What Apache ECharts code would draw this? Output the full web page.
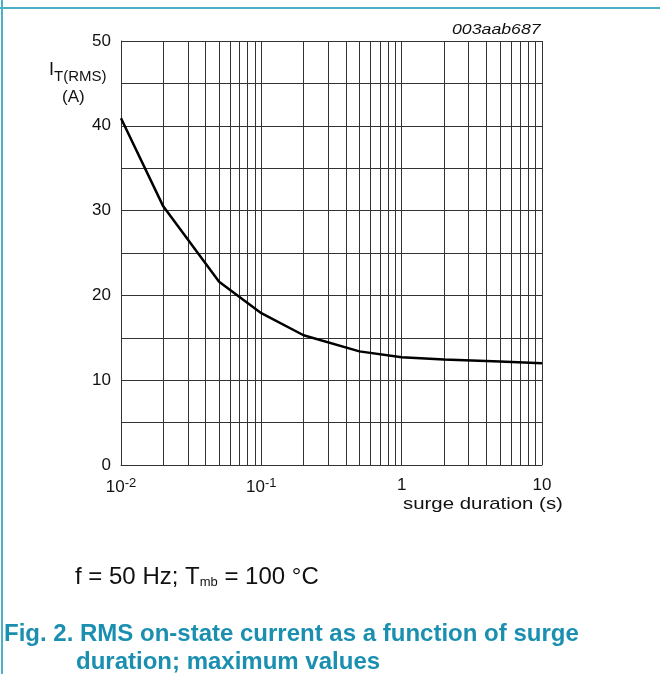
<!DOCTYPE html>
<html>
<head>
<meta charset="utf-8">
<script src="https://cdn.jsdelivr.net/npm/echarts@6/dist/echarts.min.js"></script>
<style>
  html, body { margin: 0; padding: 0; background: #fff; }
  #chart { width: 660px; height: 674px; }
</style>
</head>
<body>
<div id="chart"></div>
<script>
// surge duration (s) and max RMS current (A)
var duration = [0.01, 0.02, 0.05, 0.1, 0.2, 0.5, 1, 2, 5, 10]
var current = [40.9, 30.5, 21.6, 17.9, 15.3, 13.4, 12.7, 12.45, 12.2, 12.0]
// minor vertical grid lines of the log axis
var minorX = [0.02, 0.03, 0.04, 0.05, 0.06, 0.07, 0.08, 0.09,
  0.2, 0.3, 0.4, 0.5, 0.6, 0.7, 0.8, 0.9,
  2, 3, 4, 5, 6, 7, 8, 9]
var xLabels = { 0.01: '10{sup|-2}', 0.1: '10{sup|-1}', 1: '1', 10: '10' }

var myChart = echarts.init(document.getElementById('chart'))
var gridColor = '#333'
var teal = '#1a8fb0'
var ff = 'Liberation Sans'

myChart.setOption({
  animation: false,
  grid: { left: 121, right: 118, top: 41, bottom: 209 },
  xAxis: {
    type: 'log',
    logBase: 10,
    min: 0.01,
    max: 10,
    axisLine: { show: true, lineStyle: { color: gridColor, width: 1 } },
    axisTick: { show: false },
    splitLine: { show: true, lineStyle: { color: gridColor, width: 1 } },
    axisLabel: {
      margin: 12,
      color: '#111',
      fontFamily: ff,
      fontSize: 17,
      formatter: function (v) {
        var key = +v.toPrecision(3)
        return xLabels[key] || ''
      },
      rich: {
        sup: { fontSize: 13, verticalAlign: 'top', padding: [0, 0, 8, 0], fontFamily: ff, color: '#111' }
      }
    }
  },
  yAxis: {
    type: 'value',
    min: 0,
    max: 50,
    interval: 5,
    axisLine: { show: true, lineStyle: { color: gridColor, width: 1 } },
    axisTick: { show: false },
    splitLine: { show: true, lineStyle: { color: gridColor, width: 1 } },
    axisLabel: {
      margin: 10,
      color: '#111',
      fontFamily: ff,
      fontSize: 17,
      formatter: function (v) { return v % 10 === 0 ? String(v) : '' }
    }
  },
  series: [{
    type: 'line',
    data: duration.map(function (d, i) { return [d, current[i]] }),
    symbol: 'none',
    lineStyle: { color: '#000', width: 2.5 },
    z: 5,
    markLine: {
      silent: true,
      symbol: 'none',
      label: { show: false },
      lineStyle: { color: gridColor, width: 1, type: 'solid' },
      data: minorX.map(function (x) { return { xAxis: x } }),
      z: 1
    }
  }],
  graphic: [
    { type: 'line', shape: { x1: 2, y1: 0, x2: 2, y2: 674 }, style: { stroke: '#4bb0c8', lineWidth: 2 } },
    { type: 'line', shape: { x1: 0, y1: 8, x2: 660, y2: 8 }, style: { stroke: '#4bb0c8', lineWidth: 2 } },
    {
      type: 'text', x: 452, y: 22, scaleX: 1.18,
      style: { text: '003aab687', font: 'italic 15px ' + ff, fill: '#111' }
    },
    {
      type: 'text', x: 49, y: 57,
      style: {
        text: '{i|I}{s|T(RMS)}\n{a|(A)}',
        rich: {
          i: { font: '18px ' + ff, fill: '#111', lineHeight: 27 },
          s: { font: '15px ' + ff, fill: '#111', verticalAlign: 'bottom', lineHeight: 27 },
          a: { font: '17px ' + ff, fill: '#111', padding: [0, 0, 0, 13], lineHeight: 27 }
        }
      }
    },
    {
      type: 'text', x: 403, y: 496, scaleX: 1.2,
      style: { text: 'surge duration (s)', font: '17px ' + ff, fill: '#111' }
    },
    {
      type: 'text', x: 75, y: 565,
      style: {
        text: '{a|f = 50 Hz; T}{s|mb}{a| = 100 °C}',
        rich: {
          a: { font: '24px ' + ff, fill: '#111' },
          s: { font: '13px ' + ff, fill: '#111', verticalAlign: 'bottom', padding: [10, 0, 0, 0] }
        }
      }
    },
    {
      type: 'text', x: 4, y: 622,
      style: { text: 'Fig. 2. RMS on-state current as a function of surge', font: 'bold 24px ' + ff, fill: teal }
    },
    {
      type: 'text', x: 76, y: 650,
      style: { text: 'duration; maximum values', font: 'bold 24px ' + ff, fill: teal }
    }
  ]
})
</script>
</body>
</html>
